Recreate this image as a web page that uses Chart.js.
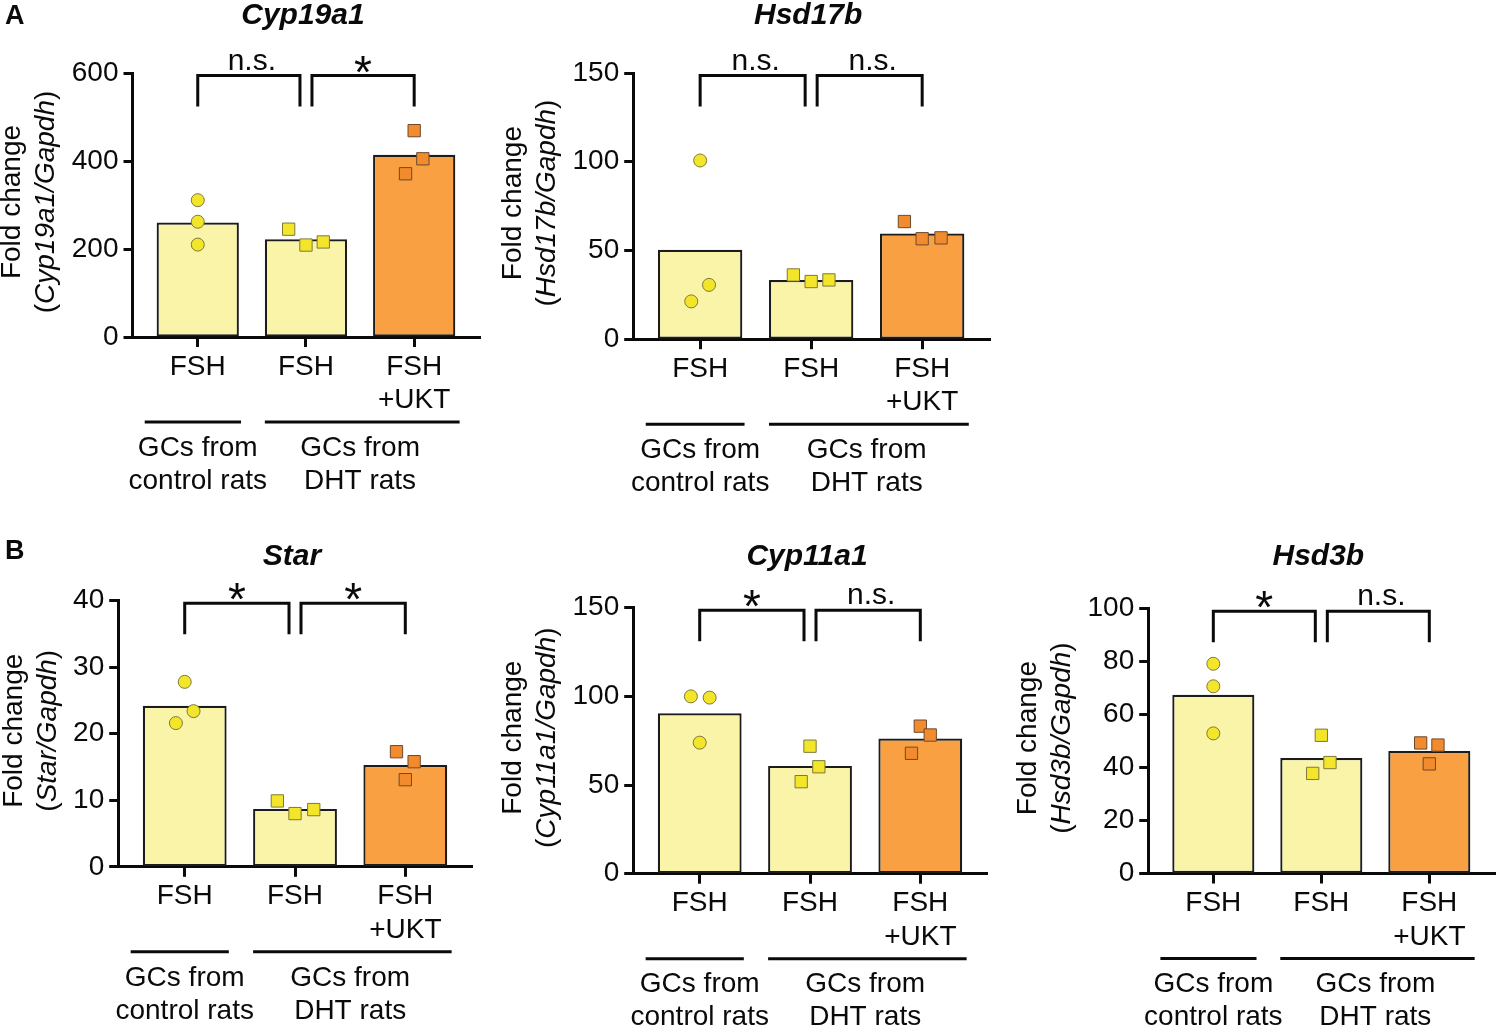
<!DOCTYPE html>
<html>
<head>
<meta charset="utf-8">
<script src="https://cdn.jsdelivr.net/npm/chart.js@4/dist/chart.umd.min.js"></script>
<style>
  html, body { margin: 0; padding: 0; background: #fff; }
  body { width: 1505px; height: 1026px; position: relative; overflow: hidden; }
  canvas { position: absolute; }
</style>
</head>
<body>
<canvas id="cyp19a1"></canvas>
<canvas id="hsd17b"></canvas>
<canvas id="star"></canvas>
<canvas id="cyp11a1"></canvas>
<canvas id="hsd3b"></canvas>
<script>
// shared categories / groups
const categories = [['FSH'], ['FSH'], ['FSH', '+UKT']];
const groupLabels = [['GCs from', 'control rats'], ['GCs from', 'DHT rats']];

// Cyp19a1
const cyp19a1Bars = [260, 222, 414];
const cyp19a1Ctrl = [311, 262, 210];
const cyp19a1Dht = [245, 209, 216];
const cyp19a1Ukt = [469, 405, 371];
const cyp19a1Spread = [[0, 0, 0], [-0.16, 0, 0.16], [0, 0.08, -0.08]];
const cyp19a1Max = 600, cyp19a1Step = 200;
const cyp19a1Sig = ['n.s.', '*'];

// Hsd17b
const hsd17bBars = [50.4, 33.4, 59.6];
const hsd17bCtrl = [100.7, 30.6, 21.3];
const hsd17bDht = [36.2, 32.5, 33.4];
const hsd17bUkt = [66.3, 56.6, 57.1];
const hsd17bSpread = [[0, 0.08, -0.08], [-0.16, 0, 0.16], [-0.16, 0, 0.17]];
const hsd17bMax = 150, hsd17bStep = 50;
const hsd17bSig = ['n.s.', 'n.s.'];

// Star
const starBars = [24.2, 8.7, 15.3];
const starCtrl = [27.8, 23.4, 21.6];
const starDht = [9.9, 8.0, 8.6];
const starUkt = [17.3, 15.8, 13.1];
const starSpread = [[0, 0.08, -0.08], [-0.16, 0, 0.17], [-0.08, 0.08, 0]];
const starMax = 40, starStep = 10;
const starSig = ['*', '*'];

// Cyp11a1
const cyp11a1Bars = [90.5, 60.8, 76.2];
const cyp11a1Ctrl = [100.0, 99.3, 73.9];
const cyp11a1Dht = [71.9, 60.3, 51.9];
const cyp11a1Ukt = [83.2, 78.2, 67.9];
const cyp11a1Spread = [[-0.08, 0.09, 0], [0, 0.08, -0.08], [0, 0.09, -0.08]];
const cyp11a1Max = 150, cyp11a1Step = 50;
const cyp11a1Sig = ['*', 'n.s.'];

// Hsd3b
const hsd3bBars = [67.5, 43.6, 46.3];
const hsd3bCtrl = [79.2, 70.7, 52.9];
const hsd3bDht = [52.2, 41.9, 37.8];
const hsd3bUkt = [49.3, 48.5, 41.4];
const hsd3bSpread = [[0, 0, 0], [0, 0.08, -0.08], [-0.08, 0.08, 0]];
const hsd3bMax = 100, hsd3bStep = 20;
const hsd3bSig = ['*', 'n.s.'];

const FAM = '"Liberation Sans", Arial, Helvetica, sans-serif';
const INK = '#0a0a0a';
const barFill = ['#FAF4A8', '#FAF4A8', '#F9A042'];
const dotFill = ['#F2E52A', '#F2E52A', '#F28A2E'];
const dotEdge = ['#7d7a3a', '#7d7a3a', '#6b4a30'];

Chart.defaults.font.family = FAM;
Chart.defaults.color = INK;

// panel boxes on the page; l/t/r/b is the plot area inside the canvas
const panels = [
  { id: 'cyp19a1', gene: 'Cyp19a1', letter: 'A', left: 0, top: 0, w: 490, h: 525, l: 132.5, t: 73, r: 487, b: 337, titleY: 24, letterY: 24,
    bars: cyp19a1Bars, pts: [cyp19a1Ctrl, cyp19a1Dht, cyp19a1Ukt], spread: cyp19a1Spread, max: cyp19a1Max, step: cyp19a1Step, sig: cyp19a1Sig },
  { id: 'hsd17b', gene: 'Hsd17b', left: 490, top: 0, w: 510, h: 525, l: 143.2, t: 73, r: 500, b: 339.2, titleY: 24,
    bars: hsd17bBars, pts: [hsd17bCtrl, hsd17bDht, hsd17bUkt], spread: hsd17bSpread, max: hsd17bMax, step: hsd17bStep, sig: hsd17bSig },
  { id: 'star', gene: 'Star', letter: 'B', left: 0, top: 530, w: 490, h: 496, l: 118.2, t: 70.7, r: 472.7, b: 336.8, titleY: 35, letterY: 29,
    bars: starBars, pts: [starCtrl, starDht, starUkt], spread: starSpread, max: starMax, step: starStep, sig: starSig },
  { id: 'cyp11a1', gene: 'Cyp11a1', left: 490, top: 530, w: 510, h: 496, l: 143.2, t: 77.7, r: 497.7, b: 343.7, titleY: 35,
    bars: cyp11a1Bars, pts: [cyp11a1Ctrl, cyp11a1Dht, cyp11a1Ukt], spread: cyp11a1Spread, max: cyp11a1Max, step: cyp11a1Step, sig: cyp11a1Sig },
  { id: 'hsd3b', gene: 'Hsd3b', left: 1000, top: 530, w: 505, h: 496, l: 148.2, t: 78.7, r: 502.7, b: 343.5, titleY: 35,
    bars: hsd3bBars, pts: [hsd3bCtrl, hsd3bDht, hsd3bUkt], spread: hsd3bSpread, max: hsd3bMax, step: hsd3bStep, sig: hsd3bSig }
];

const X_MIN = 0.397, X_MAX = 3.611;

function drawPieces(ctx, pieces, y) {
  // pieces: [text, fontPrefix]; centred on x = 0
  const widths = pieces.map(([txt, f]) => { ctx.font = `${f}28px ${FAM}`; return ctx.measureText(txt).width; });
  let x = -widths.reduce((s, w) => s + w, 0) / 2;
  pieces.forEach(([txt, f], i) => {
    ctx.font = `${f}28px ${FAM}`;
    ctx.fillText(txt, x, y);
    x += widths[i];
  });
}

const decor = {
  id: 'decor',
  afterDraw(chart, args, o) {
    const { ctx, chartArea: a, scales: { x, y } } = chart;
    ctx.save();
    ctx.fillStyle = INK;
    ctx.strokeStyle = INK;
    ctx.textBaseline = 'alphabetic';

    if (o.letter) {
      ctx.font = `bold 27px ${FAM}`;
      ctx.textAlign = 'left';
      ctx.fillText(o.letter, 5, o.letterY);
    }

    ctx.font = `italic bold 30px ${FAM}`;
    ctx.textAlign = 'center';
    ctx.fillText(o.gene, x.getPixelForValue(2) - 3, o.titleY);

    // y axis title, two lines, rotated
    ctx.font = `28px ${FAM}`;
    const tw = Math.max(...y.ticks.map(t => ctx.measureText(String(t.label)).width));
    const bx = a.left - 14.5 - tw - 17;
    ctx.save();
    ctx.translate(bx, (a.top + a.bottom) / 2 - 3);
    ctx.rotate(-Math.PI / 2);
    ctx.textAlign = 'left';
    drawPieces(ctx, [['Fold change', '']], -34);
    drawPieces(ctx, [['(', ''], [o.gene + '/Gapdh', 'italic '], [')', '']], 0);
    ctx.restore();

    // significance brackets between neighbouring groups
    const pairs = [[1, 2], [2, 3]];
    const top = a.top + 2.5, foot = top + 31;
    ctx.lineWidth = 3;
    ctx.lineJoin = 'miter';
    pairs.forEach(([p, q], i) => {
      let x1 = x.getPixelForValue(p), x2 = x.getPixelForValue(q);
      if (pairs.some(pr => pr[1] === p)) x1 += 6;
      if (pairs.some(pr => pr[0] === q)) x2 -= 6;
      ctx.beginPath();
      ctx.moveTo(x1, foot); ctx.lineTo(x1, top); ctx.lineTo(x2, top); ctx.lineTo(x2, foot);
      ctx.stroke();
      const lab = o.sig[i];
      ctx.textAlign = 'center';
      if (lab === '*') {
        ctx.font = `46px ${FAM}`;
        const m = ctx.measureText('*');
        const by = top - 11.5 + (m.actualBoundingBoxAscent - m.actualBoundingBoxDescent) / 2;
        ctx.fillText('*', (x1 + x2) / 2, by);
      } else {
        ctx.font = `30px ${FAM}`;
        ctx.fillText(lab, (x1 + x2) / 2 + 3, top - 6);
      }
    });

    // group underlines and labels
    const spans = [[0.51, 1.40], [1.62, 3.42]];
    const centres = [1, 2.5];
    ctx.lineWidth = 3;
    ctx.font = `28px ${FAM}`;
    ctx.textAlign = 'center';
    ctx.textBaseline = 'middle';
    spans.forEach(([s, e], i) => {
      ctx.beginPath();
      ctx.moveTo(x.getPixelForValue(s), a.bottom + 85);
      ctx.lineTo(x.getPixelForValue(e), a.bottom + 85);
      ctx.stroke();
      groupLabels[i].forEach((line, j) => ctx.fillText(line, x.getPixelForValue(centres[i]), a.bottom + 111 + j * 33));
    });
    ctx.restore();
  }
};

function makeChart(p) {
  const cv = document.getElementById(p.id);
  cv.width = p.w; cv.height = p.h;
  cv.style.left = p.left + 'px'; cv.style.top = p.top + 'px';
  cv.style.width = p.w + 'px'; cv.style.height = p.h + 'px';

  const dots = p.pts.map((vals, g) => ({
    type: 'scatter',
    order: 1,
    data: vals.map((v, k) => ({ x: g + 1 + p.spread[g][k], y: v })),
    pointStyle: g === 0 ? 'circle' : 'rect',
    pointRadius: g === 0 ? 6.5 : 8.7,
    backgroundColor: dotFill[g],
    borderColor: dotEdge[g],
    borderWidth: 1
  }));

  return new Chart(cv, {
    type: 'bar',
    data: {
      datasets: [
        ...dots,
        {
          type: 'bar',
          order: 2,
          data: p.bars.map((v, i) => ({ x: i + 1, y: v })),
          backgroundColor: barFill,
          borderColor: '#1c1c1c',
          borderWidth: 2.2,
          borderSkipped: false,
          barPercentage: 0.76,
          categoryPercentage: 1
        }
      ]
    },
    options: {
      responsive: false,
      animation: false,
      devicePixelRatio: 1,
      events: [],
      layout: { padding: { top: p.t, right: p.w - p.r, bottom: 0, left: 0 } },
      plugins: {
        legend: { display: false },
        tooltip: { enabled: false },
        decor: { gene: p.gene, letter: p.letter, letterY: p.letterY, titleY: p.titleY, sig: p.sig }
      },
      scales: {
        x: {
          type: 'linear',
          min: X_MIN, max: X_MAX,
          bounds: 'data',
          offset: false,
          z: 1,
          afterBuildTicks: s => { s.ticks = categories.map((c, i) => ({ value: i + 1 })); },
          afterFit: s => { s.height = p.h - p.b; },
          ticks: {
            autoSkip: false, maxRotation: 0, padding: 3,
            font: { size: 28 }, color: INK,
            callback: v => categories[Math.round(v) - 1]
          },
          grid: { offset: false, drawOnChartArea: false, tickLength: 10, tickWidth: 3, tickColor: INK },
          border: { width: 3, color: INK }
        },
        y: {
          min: 0, max: p.max,
          afterFit: s => { s.width = p.l; },
          ticks: { stepSize: p.step, padding: 5, font: { size: 28 }, color: INK },
          grid: { drawOnChartArea: false, tickLength: 9, tickWidth: 3, tickColor: INK },
          border: { width: 3, color: INK }
        }
      }
    },
    plugins: [decor]
  });
}

panels.forEach(makeChart);
</script>
</body>
</html>
